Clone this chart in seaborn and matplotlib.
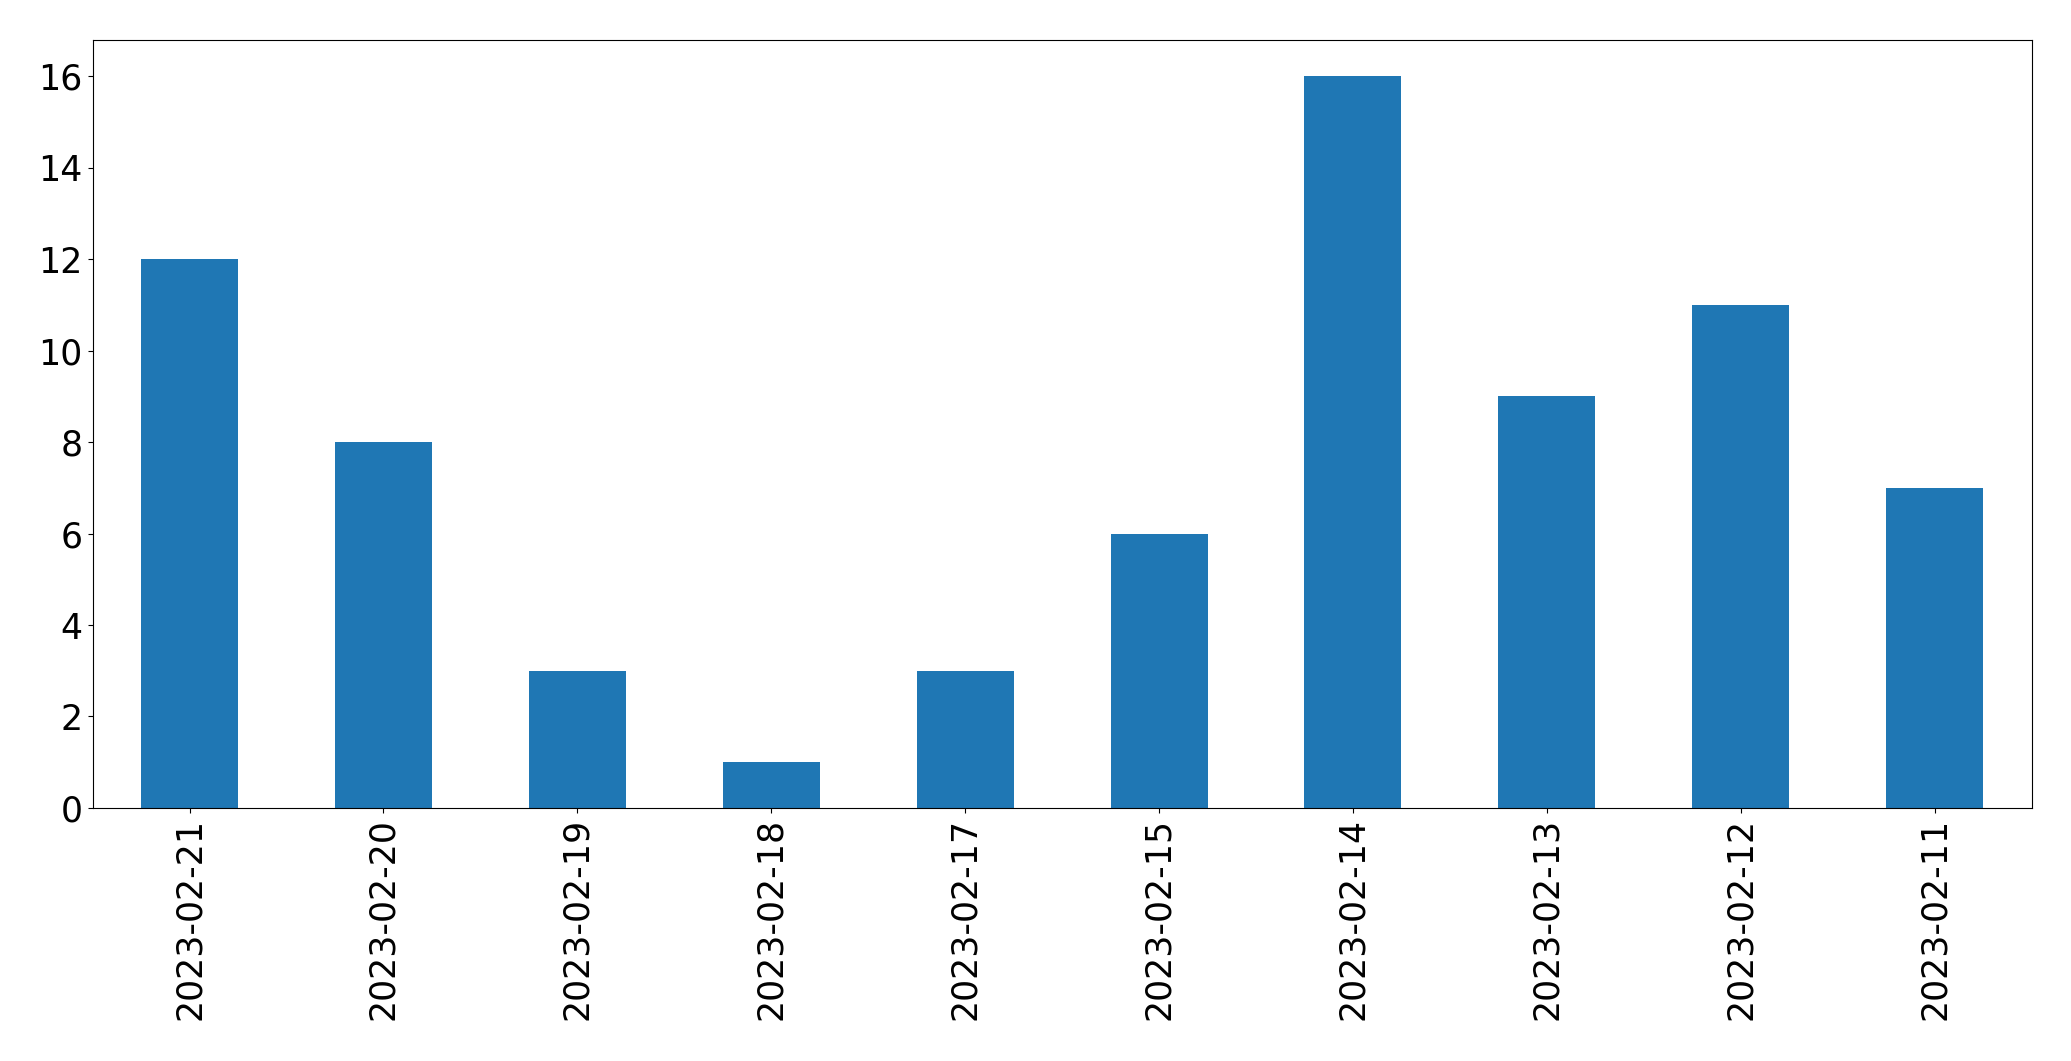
import pandas as pd
import numpy as np
import matplotlib
matplotlib.use("Agg")
import matplotlib.pyplot as plt
import seaborn as sns

# 날짜별 건수
dates = ["2023-02-21", "2023-02-20", "2023-02-19", "2023-02-18", "2023-02-17",
         "2023-02-15", "2023-02-14", "2023-02-13", "2023-02-12", "2023-02-11"]
counts = [12, 8, 3, 1, 3, 6, 16, 9, 11, 7]

df = pd.DataFrame({"date": dates, "count": counts})

fig, ax = plt.subplots(figsize=(20.71, 10.61), dpi=100)
sns.barplot(data=df, x="date", y="count", order=dates, color="#1f77b4",
            saturation=1, width=0.5, linewidth=0, ax=ax)
ax.set_xlim(-0.5, len(dates) - 0.5)
ax.set_ylim(0, 16.8)
ax.set_yticks(np.arange(0, 17, 2))
ax.set_xlabel("")
ax.set_ylabel("")
ax.tick_params(axis="x", labelrotation=90, labelsize=25)
ax.tick_params(axis="y", labelsize=25)
plt.subplots_adjust(left=0.0447, right=0.981, top=0.9627, bottom=0.2385)
plt.savefig("out.png", dpi=100)
